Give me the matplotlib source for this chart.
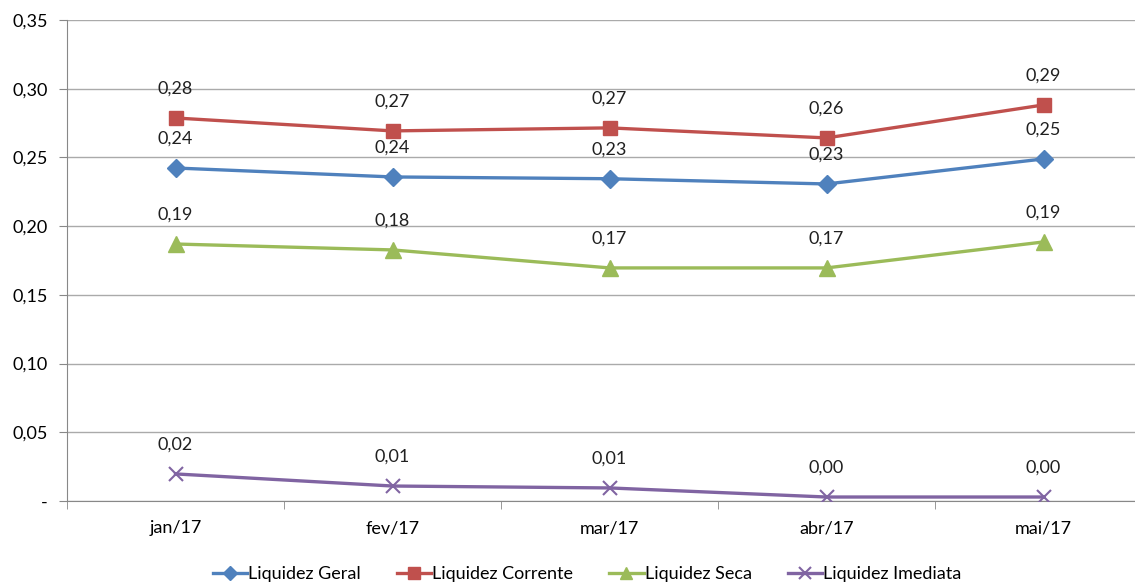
import matplotlib
matplotlib.use("Agg")
import matplotlib.pyplot as plt
from matplotlib.ticker import FuncFormatter

plt.rcParams['font.family'] = ['Lato', 'DejaVu Sans']

# data
months = ['jan/17', 'fev/17', 'mar/17', 'abr/17', 'mai/17']
geral = [0.2423, 0.2358, 0.2345, 0.2307, 0.2489]
corrente = [0.2787, 0.2693, 0.2715, 0.2642, 0.2882]
seca = [0.1870, 0.1827, 0.1696, 0.1696, 0.1885]
imediata = [0.0197, 0.0109, 0.0095, 0.0029, 0.0029]

series = [
    ('Liquidez Geral', geral, '#4F81BD', 'D', 9),
    ('Liquidez Corrente', corrente, '#C0504D', 's', 10),
    ('Liquidez Seca', seca, '#9BBB59', '^', 11),
    ('Liquidez Imediata', imediata, '#8064A2', 'x', 10),
]

fig = plt.figure(figsize=(11.35, 5.86), dpi=100)
ax = fig.add_axes([67 / 1135, 85 / 586, 1085 / 1135, 481 / 586])

x = range(len(months))
for name, vals, col, mk, ms in series:
    ax.plot(x, vals, color=col, lw=2.4, marker=mk, markersize=ms,
            markeredgewidth=1.5 if mk == 'x' else 1, label=name, zorder=3)
    for xi, v in zip(x, vals):
        ax.annotate(('%.2f' % v).replace('.', ','), (xi, v), xytext=(0, 21),
                    textcoords='offset points', ha='center', va='center',
                    fontsize=13, color='#202020')

ax.set_xlim(-0.5, 4.5)
ax.set_ylim(0, 0.35)
ax.set_yticks([0, 0.05, 0.10, 0.15, 0.20, 0.25, 0.30, 0.35])
ax.yaxis.set_major_formatter(FuncFormatter(
    lambda v, p: '-' if abs(v) < 1e-9 else ('%.2f' % v).replace('.', ',')))
ax.set_xticks(list(x))
ax.set_xticklabels(months)
ax.set_xticks([i + 0.5 for i in range(-1, 5)], minor=True)
ax.tick_params(axis='x', which='major', length=0, pad=14, labelsize=13)
ax.tick_params(axis='x', which='minor', length=6, color='#888888')
ax.tick_params(axis='y', length=6, color='#888888', pad=8, labelsize=13)

ax.grid(axis='y', color='#AAAAAA', lw=1)
ax.set_axisbelow(True)
for s in ['top', 'right']:
    ax.spines[s].set_visible(False)
for s in ['left', 'bottom']:
    ax.spines[s].set_color('#888888')

fig.legend(loc='center', bbox_to_anchor=(587 / 1135, 1 - 574 / 586), ncol=4,
           frameon=False, fontsize=13, handlelength=1.9, handletextpad=0.05,
           columnspacing=2.0, markerscale=0.8)

fig.savefig('out.png', dpi=100)
